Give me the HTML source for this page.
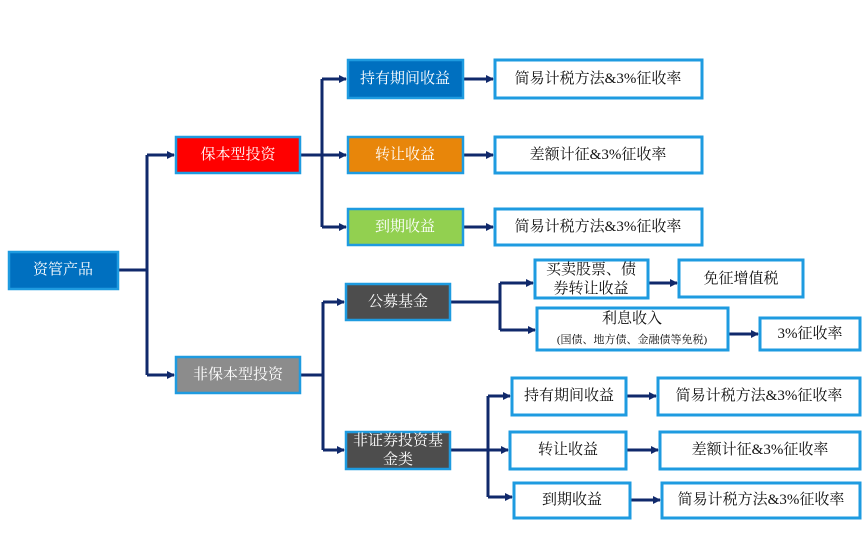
<!DOCTYPE html>
<html><head><meta charset="utf-8"><style>
html,body{margin:0;padding:0;background:#fff;}
svg{display:block;}
text{font-family:"Liberation Serif","Noto Serif CJK SC",serif;font-size:15px;text-anchor:middle;dominant-baseline:central;}
.w{fill:#fff;}
.k{fill:#111;}
</style></head><body>
<svg width="865" height="542" viewBox="0 0 865 542" xmlns="http://www.w3.org/2000/svg">
<defs><marker id="a" markerWidth="8" markerHeight="8" refX="7" refY="4" orient="auto" markerUnits="userSpaceOnUse"><path d="M0,0 L8,4 L0,8 z" fill="#10296b"/></marker></defs>
<g stroke="#10296b" stroke-width="3" fill="none">
<path d="M118,270 H147 M147,155 V375"/>
<path d="M147,155 H174" marker-end="url(#a)"/><path d="M147,375 H174" marker-end="url(#a)"/>
<path d="M300,155 H322 M322,79 V227"/>
<path d="M322,79 H346" marker-end="url(#a)"/><path d="M322,155 H346" marker-end="url(#a)"/><path d="M322,227 H346" marker-end="url(#a)"/>
<path d="M463,79 H493" marker-end="url(#a)"/><path d="M463,155 H493" marker-end="url(#a)"/><path d="M463,227 H493" marker-end="url(#a)"/>
<path d="M300,375 H323 M323,302 V450"/>
<path d="M323,302 H344" marker-end="url(#a)"/><path d="M323,450 H344" marker-end="url(#a)"/>
<path d="M450,302 H500 M500,283 V330"/>
<path d="M500,283 H533" marker-end="url(#a)"/><path d="M500,330 H535" marker-end="url(#a)"/>
<path d="M648,283 H677" marker-end="url(#a)"/><path d="M728,334 H758" marker-end="url(#a)"/>
<path d="M450,450 H488 M488,396 V497"/>
<path d="M488,396 H510" marker-end="url(#a)"/><path d="M488,450 H508" marker-end="url(#a)"/><path d="M488,497 H512" marker-end="url(#a)"/>
<path d="M626,396 H656" marker-end="url(#a)"/><path d="M626,450 H658" marker-end="url(#a)"/><path d="M630,500 H660" marker-end="url(#a)"/>
</g>
<g stroke="#1e9be0" stroke-width="2.5">
<rect x="9" y="252" width="109" height="37" fill="#0070c0"/>
<rect x="176" y="137" width="124" height="36" fill="#ff0000"/>
<rect x="176" y="357" width="124" height="36" fill="#8c8c8c"/>
<rect x="348" y="60" width="115" height="38" fill="#0070c0"/>
<rect x="348" y="137" width="115" height="36" fill="#e8860a"/>
<rect x="348" y="209" width="115" height="36" fill="#92d050"/>
<rect x="346" y="284" width="104" height="36" fill="#4d4d4d"/>
<rect x="346" y="432" width="104" height="37" fill="#4d4d4d"/>
</g>
<g stroke="#1e9be0" stroke-width="3" fill="#fff">
<rect x="495" y="60" width="207" height="38"/>
<rect x="495" y="137" width="207" height="36"/>
<rect x="495" y="209" width="207" height="36"/>
<rect x="535" y="260" width="113" height="38"/>
<rect x="679" y="260" width="124" height="37"/>
<rect x="537" y="308" width="191" height="42"/>
<rect x="760" y="318" width="100" height="32"/>
<rect x="512" y="378" width="114" height="37"/>
<rect x="658" y="378" width="202" height="37"/>
<rect x="510" y="432" width="116" height="37"/>
<rect x="660" y="432" width="200" height="37"/>
<rect x="514" y="483" width="116" height="35"/>
<rect x="662" y="483" width="198" height="35"/>
</g>
<text class="w" x="63" y="270">资管产品</text>
<text class="w" x="238" y="155">保本型投资</text>
<text class="w" x="238" y="375">非保本型投资</text>
<text class="w" x="405" y="79">持有期间收益</text>
<text class="w" x="405" y="155">转让收益</text>
<text class="w" x="405" y="227">到期收益</text>
<text class="w" x="398" y="302">公募基金</text>
<text class="w" x="398" y="441">非证券投资基</text>
<text class="w" x="398" y="460">金类</text>
<text class="k" x="598" y="79">简易计税方法&amp;3%征收率</text>
<text class="k" x="598" y="155">差额计征&amp;3%征收率</text>
<text class="k" x="598" y="227">简易计税方法&amp;3%征收率</text>
<text class="k" x="591" y="270">买卖股票、债</text>
<text class="k" x="591" y="289">券转让收益</text>
<text class="k" x="741" y="279">免征增值税</text>
<text class="k" x="632" y="319">利息收入</text>
<text class="k" x="632" y="340" style="font-size:11px">(国债、地方债、金融债等免税)</text>
<text class="k" x="810" y="334">3%征收率</text>
<text class="k" x="569" y="396">持有期间收益</text>
<text class="k" x="759" y="396">简易计税方法&amp;3%征收率</text>
<text class="k" x="568" y="450">转让收益</text>
<text class="k" x="760" y="450">差额计征&amp;3%征收率</text>
<text class="k" x="572" y="500">到期收益</text>
<text class="k" x="761" y="500">简易计税方法&amp;3%征收率</text>
</svg>
</body></html>
